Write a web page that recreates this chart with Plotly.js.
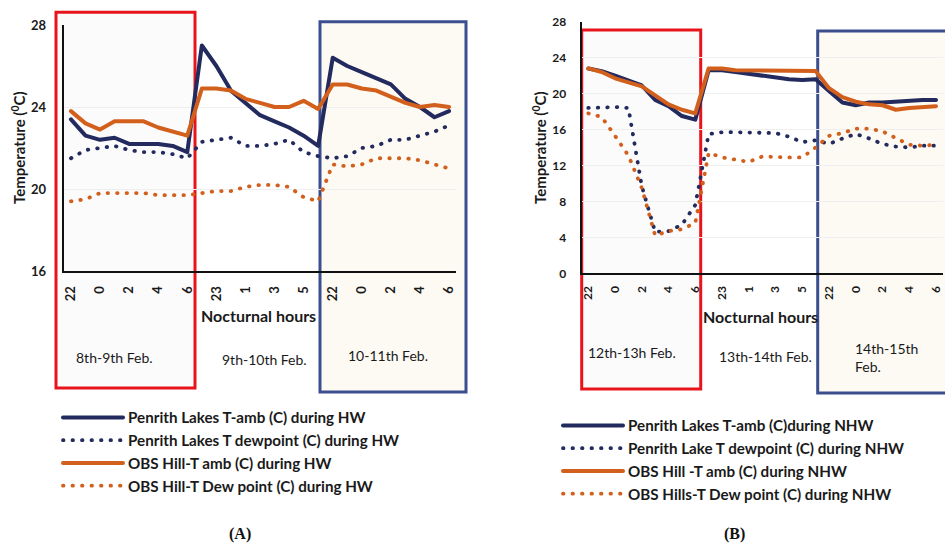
<!DOCTYPE html>
<html>
<head>
<meta charset="utf-8">
<script src="https://cdn.plot.ly/plotly-3.0.1.min.js"></script>
<style>
  html, body { margin: 0; padding: 0; background: #ffffff; }
  #chart { width: 945px; height: 546px; }
  /* round caps turn the dotted dash pattern into round dots */
  #chart path.js-line { stroke-linecap: round !important; stroke-linejoin: round !important; }
</style>
</head>
<body>
<div id="chart"></div>
<script>
// Nocturnal hours for three consecutive nights (22:00 to 06:00)
const hoursHW  = [22,23,0,1,2,3,4,5,6, 22,23,0,1,2,3,4,5,6, 22,23,0,1,2,3,4,5,6];
const hoursNHW = [22,23,0,1,2,3,4,5,6, 22,23,0,1,2,3,4,5,6, 22,23,0,1,2,3,4,5,6];

// (A) heatwave nights, temperatures in degrees C
const penrithAmbHW = [23.4,22.6,22.4,22.5,22.2,22.2,22.2,22.1,21.8, 27.0,26.0,24.8,24.2,23.6,23.3,23.0,22.6,22.1, 26.4,26.0,25.7,25.4,25.1,24.4,24.0,23.5,23.8];
const penrithDewHW = [21.5,21.9,22.0,22.1,21.9,21.8,21.8,21.7,21.5, 22.3,22.4,22.5,22.1,22.1,22.2,22.4,21.8,21.6, 21.5,21.6,22.0,22.1,22.4,22.4,22.6,22.8,23.1];
const obsAmbHW     = [23.8,23.2,22.9,23.3,23.3,23.3,23.0,22.8,22.6, 24.9,24.9,24.8,24.4,24.2,24.0,24.0,24.3,23.9, 25.1,25.1,24.9,24.8,24.5,24.2,24.0,24.1,24.0];
const obsDewHW     = [19.4,19.5,19.8,19.8,19.8,19.8,19.7,19.7,19.7, 19.8,19.9,19.9,20.1,20.2,20.2,20.1,19.6,19.4, 21.2,21.1,21.2,21.5,21.5,21.5,21.4,21.2,21.0];

// (B) non-heatwave nights, temperatures in degrees C
const penrithAmbNHW = [22.8,22.5,22.0,21.5,20.9,19.3,18.6,17.5,17.1, 22.6,22.6,22.4,22.2,21.9,21.8,21.6,21.5,21.6, 20.3,19.0,18.7,19.0,19.0,19.1,19.3,19.3,19.3];
const penrithDewNHW = [18.4,18.5,18.5,18.4,9.7,4.6,4.7,5.4,7.6, 15.5,15.7,15.7,15.7,15.6,15.6,15.2,14.6,14.8, 14.4,15.0,15.5,15.0,14.4,14.1,14.0,14.2,14.2];
const obsAmbNHW     = [22.8,22.4,21.7,21.2,20.8,19.8,18.8,18.2,17.8, 22.8,22.8,22.6,22.6,22.5,22.5,22.6,22.5,22.5, 20.6,19.6,19.1,18.8,18.7,18.2,18.4,18.5,18.6];
const obsDewNHW     = [17.8,17.4,15.3,13.1,9.5,4.2,4.7,4.9,5.6, 13.4,12.9,12.7,12.4,13.0,12.9,12.9,12.9,14.0, 15.3,15.6,16.1,16.1,15.8,15.0,14.3,14.2,14.3];

const nightsHW  = ['8th-9th Feb.', '9th-10th Feb.', '10-11th Feb.'];
const nightsNHW = ['12th-13h Feb.', '13th-14th Feb.', '14th-15th<br>Feb.'];

const NAVY = '#222a5e';
const ORANGE = '#d2601c';
const FONT = 'Lato, "Open Sans", sans-serif';
const DOTS = '0.5px,9px';

const W = 945, H = 546;
const px = v => v / W;          // pixel column -> paper x
const py = v => 1 - v / H;      // pixel row -> paper y

function positions(hours) { return hours.map((h, i) => i); }
function tickIdx(hours) { return hours.map((h, i) => i).filter(i => i % 2 === 0); }
function tickTxt(hours) { return tickIdx(hours).map(i => String(hours[i])); }

function series(x, y, name, color, dash, xa, ya, legend) {
  return {
    type: 'scatter', mode: 'lines', x: x, y: y, name: name,
    line: { color: color, width: dash ? 3.8 : 4, dash: dash || 'solid', shape: 'linear' },
    xaxis: xa, yaxis: ya, legend: legend,
    hoverinfo: 'x+y'
  };
}

const xA = positions(hoursHW), xB = positions(hoursNHW);

const data = [
  series(xA, penrithAmbHW, 'Penrith Lakes T-amb (C) during HW', NAVY, null, 'x', 'y', 'legend'),
  series(xA, penrithDewHW, 'Penrith Lakes T dewpoint (C) during HW', NAVY, DOTS, 'x', 'y', 'legend'),
  series(xA, obsAmbHW, 'OBS Hill-T amb (C) during HW', ORANGE, null, 'x', 'y', 'legend'),
  series(xA, obsDewHW, 'OBS Hill-T Dew point (C) during HW', ORANGE, DOTS, 'x', 'y', 'legend'),
  series(xB, penrithAmbNHW, 'Penrith Lakes T-amb (C)during NHW', NAVY, null, 'x2', 'y2', 'legend2'),
  series(xB, penrithDewNHW, 'Penrith Lake T dewpoint (C) during NHW', NAVY, DOTS, 'x2', 'y2', 'legend2'),
  series(xB, obsAmbNHW, 'OBS Hill -T amb (C) during NHW', ORANGE, null, 'x2', 'y2', 'legend2'),
  series(xB, obsDewNHW, 'OBS Hills-T Dew point (C) during NHW', ORANGE, DOTS, 'x2', 'y2', 'legend2')
];

function xAxis(hours, domain, anchor, size, standoff) {
  return {
    domain: domain, anchor: anchor, range: [-0.5, hours.length - 0.5],
    tickmode: 'array', tickvals: tickIdx(hours), ticktext: tickTxt(hours),
    tickangle: -90, ticks: 'outside', ticklen: standoff, tickcolor: 'rgba(0,0,0,0)',
    tickfont: { family: FONT, size: size, color: '#1a1a1a', weight: 'bold' },
    showline: true, linecolor: '#111111', linewidth: 2,
    showgrid: false, zeroline: false, fixedrange: true
  };
}
function yAxis(range, domain, anchor, size, standoff) {
  return {
    domain: domain, anchor: anchor, range: range, dtick: 4, tick0: 0,
    ticks: 'outside', ticklen: standoff, tickcolor: 'rgba(0,0,0,0)',
    tickfont: { family: FONT, size: size, color: '#1a1a1a', weight: 'bold' },
    showline: true, linecolor: '#111111', linewidth: 2,
    showgrid: true, gridcolor: '#efefef', gridwidth: 1,
    zeroline: false, fixedrange: true
  };
}

function box(x0, y0, x1, y1, color, fill) {
  return {
    type: 'rect', xref: 'paper', yref: 'paper', layer: 'below',
    x0: px(x0), x1: px(x1), y0: py(y0), y1: py(y1),
    line: { color: color, width: 3 }, fillcolor: fill
  };
}

function note(text, x, y, size, opts) {
  return Object.assign({
    xref: 'paper', yref: 'paper', x: px(x), y: py(y), text: text, showarrow: false,
    font: { family: FONT, size: size, color: '#1a1a1a' },
    xanchor: 'center', yanchor: 'middle'
  }, opts || {});
}

const legendBase = {
  xanchor: 'left', yanchor: 'top', bgcolor: 'rgba(0,0,0,0)', borderwidth: 0,
  font: { family: FONT, size: 15.2, color: '#1a1a1a', weight: 'bold' },
  itemwidth: 60, traceorder: 'normal', itemclick: false, itemdoubleclick: false
};

const layout = {
  width: W, height: H,
  margin: { l: 0, r: 0, t: 0, b: 0 },
  paper_bgcolor: '#ffffff', plot_bgcolor: 'rgba(0,0,0,0)',
  showlegend: true,
  xaxis:  xAxis(hoursHW,  [px(63.7), px(456.3)], 'y', 13, 8),
  yaxis:  yAxis([16, 28], [py(271), py(25)], 'x', 13, 13),
  xaxis2: xAxis(hoursNHW, [px(581.6), px(942.7)], 'y2', 12, 6),
  yaxis2: yAxis([0, 28], [py(273.3), py(21.7)], 'x2', 12, 11),
  legend:  Object.assign({}, legendBase, { x: px(58), y: py(401) }),
  legend2: Object.assign({}, legendBase, { x: px(558), y: py(409) }),
  shapes: [
    box(56, 12.3, 195, 388, '#e8141c', '#fcfbfc'),
    box(320, 21.7, 466, 392, '#3b4f8f', '#fdfaf4'),
    box(581.7, 30, 700.7, 389, '#e8141c', '#fcfbfc'),
    box(817.7, 31, 948, 393, '#3b4f8f', '#fdfaf4')
  ],
  annotations: [
    note('<b>Temperature (<sup>0</sup>C)</b>', 19, 148, 15, { textangle: -90 }),
    note('<b>Temperature (<sup>0</sup>C)</b>', 540, 148, 15, { textangle: -90 }),
    note('<b>Nocturnal hours</b>', 258, 315, 16),
    note('<b>Nocturnal hours</b>', 760, 316, 16),
    note(nightsHW[0], 114.5, 357, 14),
    note(nightsHW[1], 264, 359, 14),
    note(nightsHW[2], 388, 355, 14),
    note(nightsNHW[0], 632, 352, 14),
    note(nightsNHW[1], 765, 356, 14),
    note(nightsNHW[2], 853, 357, 14, { xanchor: 'left', align: 'left' }),
    note('(<b>A</b>)', 240, 534, 16, { font: { family: '"Liberation Serif", serif', size: 16, color: '#111111', weight: 'bold' } }),
    note('(<b>B</b>)', 734, 534, 16, { font: { family: '"Liberation Serif", serif', size: 16, color: '#111111', weight: 'bold' } })
  ]
};

Plotly.newPlot('chart', data, layout, { displayModeBar: false, responsive: false });
</script>
</body>
</html>
